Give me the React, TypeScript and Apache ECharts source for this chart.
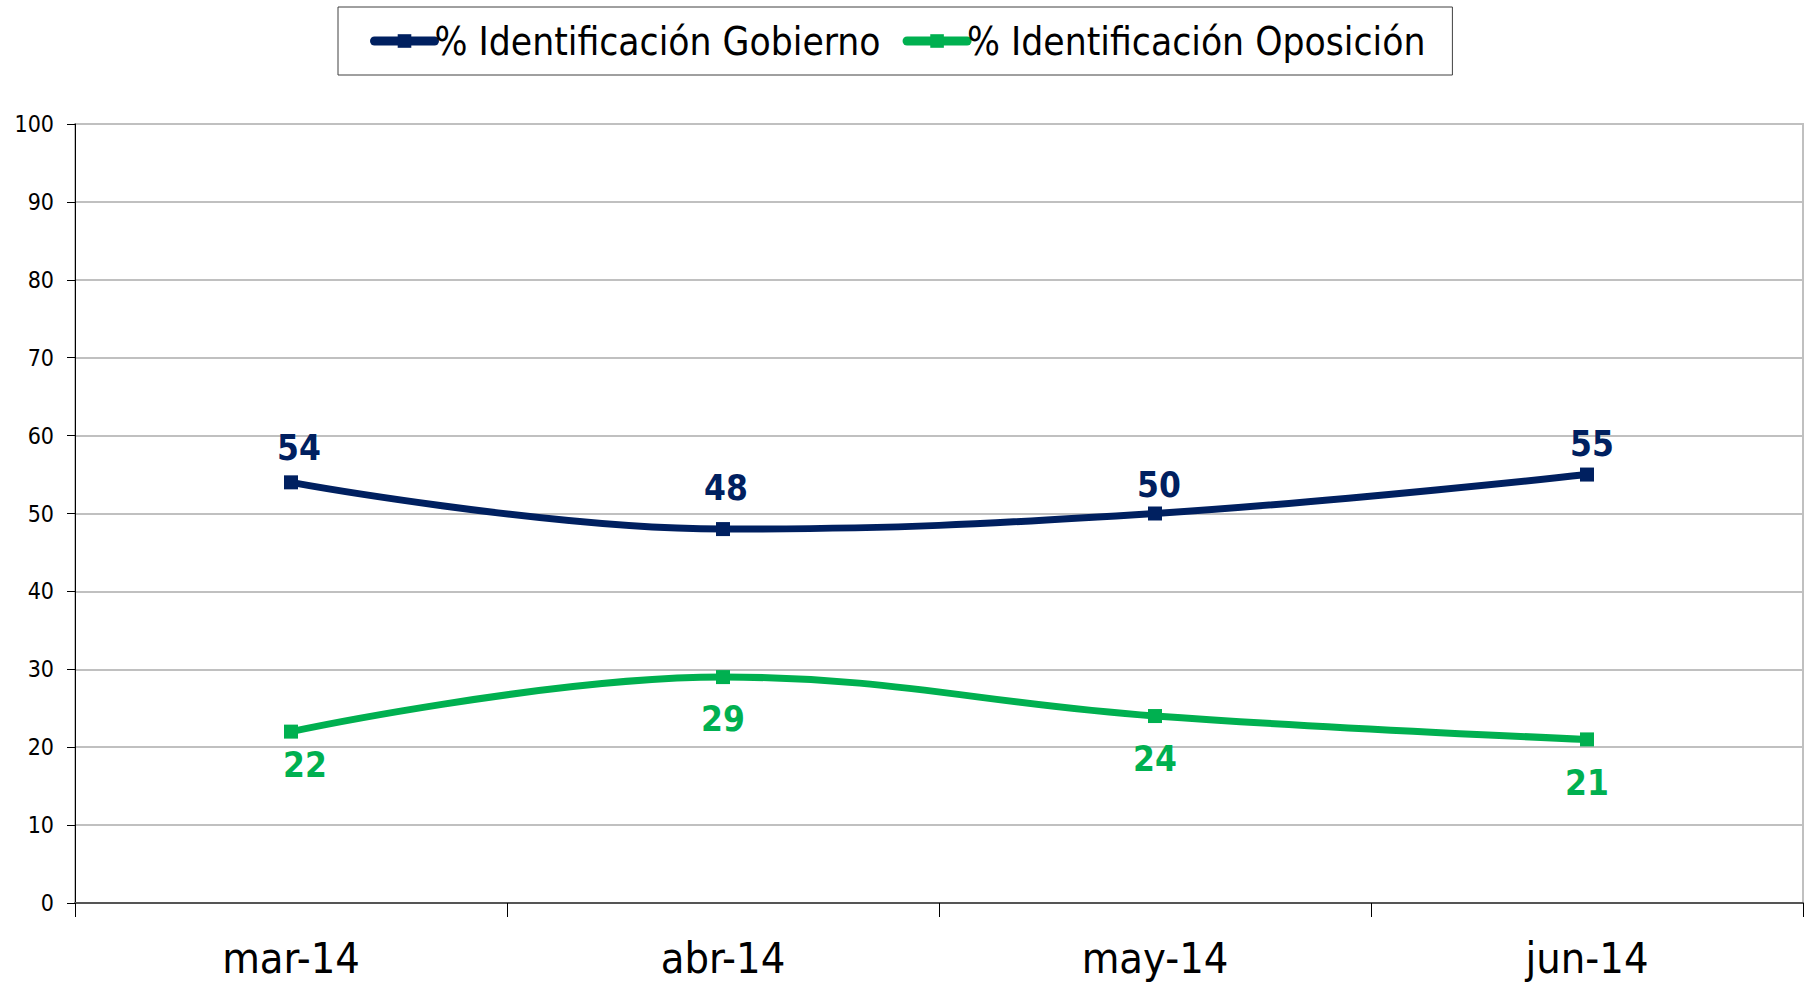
import React, { useEffect, useRef } from "react";
import * as echarts from "echarts";

const categories = ["mar-14", "abr-14", "may-14", "jun-14"];
const gobierno = [54, 48, 50, 55];
const oposicion = [22, 29, 24, 21];
const seriesNames = ["% Identificación Gobierno", "% Identificación Oposición"];

// label placement (pixels relative to each marker), kept apart from the data
const gobiernoLabelOffsets = [[8, -34], [3, -41], [4, -29], [5, -31]];
const oposicionLabelOffsets = [[14, 33], [0, 42], [0, 43], [0, 44]];

const FONT = "'DejaVu Sans Condensed', 'DejaVu Sans', sans-serif";
const NAVY = "#002060";
const GREEN = "#00B050";

function withLabels(values: number[], offsets: number[][]) {
  return values.map((v, i) => ({ value: v, label: { offset: offsets[i] } }));
}

export default function App() {
  const ref = useRef<HTMLDivElement>(null);
  useEffect(() => {
    if (!ref.current) return;
    const chart = echarts.init(ref.current, undefined, { renderer: "svg" });
    const labelBase = {
      show: true,
      position: "inside",
      fontFamily: FONT,
      fontWeight: "bold",
      fontSize: 35,
    };
    chart.setOption({
      animation: false,
      backgroundColor: "#ffffff",
      textStyle: { fontFamily: FONT },
      legend: {
        left: 338,
        top: 7,
        padding: [14, 27, 14, 32],
        itemGap: 22,
        itemWidth: 60,
        itemHeight: 17,
        borderColor: "#404040",
        borderWidth: 1,
        lineStyle: { width: 9, cap: "round" },
        textStyle: {
          fontFamily: FONT,
          fontSize: 38.6,
          lineHeight: 40,
          color: "#000000",
          padding: [0, 0, 0, -5],
        },
        data: seriesNames,
      },
      grid: {
        left: 75,
        right: 9,
        top: 124,
        bottom: 80,
        show: true,
        borderColor: "#c0c0c0",
        borderWidth: 2,
      },
      xAxis: {
        type: "category",
        data: categories,
        boundaryGap: true,
        axisLine: { lineStyle: { color: "#555555", width: 2 } },
        axisTick: { show: true, length: 14, lineStyle: { color: "#000000", width: 1 } },
        axisLabel: { fontFamily: FONT, fontSize: 43, color: "#000000", margin: 33 },
        splitLine: { show: false },
      },
      yAxis: {
        type: "value",
        min: 0,
        max: 100,
        interval: 10,
        axisLine: { show: true, lineStyle: { color: "#000000", width: 1 } },
        axisTick: { show: true, length: 8, lineStyle: { color: "#000000", width: 1 } },
        axisLabel: { fontFamily: FONT, fontSize: 23, color: "#000000", margin: 21 },
        splitLine: { lineStyle: { color: "#c0c0c0", width: 2 } },
      },
      series: [
        {
          name: seriesNames[0],
          type: "line",
          data: withLabels(gobierno, gobiernoLabelOffsets),
          smooth: 0.4,
          symbol: "rect",
          symbolSize: 14,
          color: NAVY,
          lineStyle: { color: NAVY, width: 7 },
          itemStyle: { color: NAVY },
          label: { ...labelBase, color: NAVY },
          z: 3,
        },
        {
          name: seriesNames[1],
          type: "line",
          data: withLabels(oposicion, oposicionLabelOffsets),
          smooth: 0.4,
          symbol: "rect",
          symbolSize: 14,
          color: GREEN,
          lineStyle: { color: GREEN, width: 7 },
          itemStyle: { color: GREEN },
          label: { ...labelBase, color: GREEN },
          z: 3,
        },
      ],
    });
    return () => chart.dispose();
  }, []);
  return (
    <div
      ref={ref}
      style={{ position: "fixed", left: 0, top: 0, width: 1812, height: 983, background: "#fff" }}
    />
  );
}
